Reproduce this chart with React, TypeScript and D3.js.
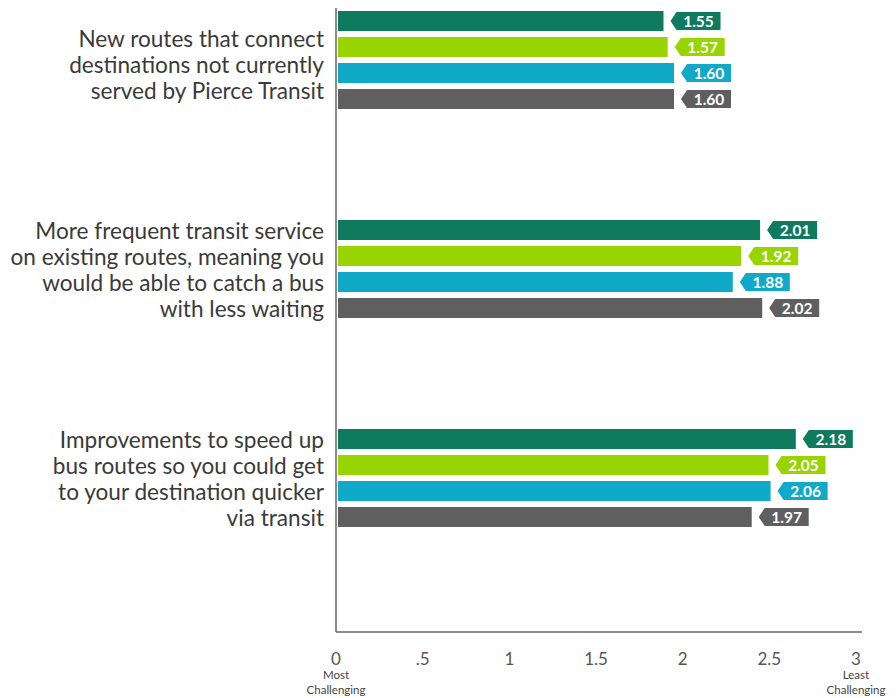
import React from "react";
import * as d3 from "d3";

const categories: string[][] = [
  ["New routes that connect", "destinations not currently", "served by Pierce Transit"],
  ["More frequent transit service", "on existing routes, meaning you", "would be able to catch a bus", "with less waiting"],
  ["Improvements to speed up", "bus routes so you could get", "to your destination quicker", "via transit"],
];
const seriesNames = ["Series 1", "Series 2", "Series 3", "Series 4"];
const series1 = [1.55, 2.01, 2.18];
const series2 = [1.57, 1.92, 2.05];
const series3 = [1.6, 1.88, 2.06];
const series4 = [1.6, 2.02, 1.97];
const seriesColors = ["#0e7a5e", "#97d400", "#10aac8", "#5f5f5f"];
const tickValues = [0, 0.5, 1, 1.5, 2, 2.5, 3];
const tickLabels = ["0", ".5", "1", "1.5", "2", "2.5", "3"];

const W = 896;
const H = 698;
const FONT = "Lato, 'Open Sans', sans-serif";

export default function App() {
  const allSeries = [series1, series2, series3, series4];
  const axisX = d3.scaleLinear().domain([0, 3]).range([336, 856]);
  const barX = d3.scaleLinear().domain([0, 3]).range([338, 968]);
  const groupY = d3.scaleBand<number>().domain(categories.map((_, i) => i)).range([9, 636]).padding(0);
  const innerY = d3
    .scaleBand<number>()
    .domain(seriesNames.map((_, i) => i))
    .range([2, 100])
    .paddingInner(6 / 26)
    .paddingOuter(0);
  const bh = innerY.bandwidth();
  const lineH = 25.7;

  return (
    <svg width={W} height={H} style={{ position: "absolute", left: 0, top: 0, background: "#fff" }} fontFamily={FONT}>
      {categories.map((lines, gi) => {
        const g0 = groupY(gi)!;
        const center = g0 + innerY(0)! + (innerY(3)! + bh - innerY(0)!) / 2;
        const n = lines.length;
        const extra = n === 3 ? 4 : 0;
        return (
          <g key={gi}>
            {lines.map((ln, li) => (
              <text
                key={li}
                x={324}
                y={center + (li - (n - 1) / 2) * lineH + 9 + extra}
                textAnchor="end"
                fontSize={22.6}
                fill="#3a3a3a"
              >
                {ln}
              </text>
            ))}
            {allSeries.map((vals, si) => {
              const y = g0 + innerY(si)!;
              const x1 = barX(vals[gi]);
              const px = x1 + 7;
              const top = y + 1;
              const bot = y + bh - 1;
              const bw = 44;
              const pts = [
                [px, (top + bot) / 2],
                [px + 6, top],
                [px + 6 + bw, top],
                [px + 6 + bw, bot],
                [px + 6, bot],
              ]
                .map((p) => p.join(","))
                .join(" ");
              return (
                <g key={si}>
                  <rect x={barX(0)} y={y} width={x1 - barX(0)} height={bh} fill={seriesColors[si]} />
                  <polygon points={pts} fill={seriesColors[si]} />
                  <text
                    x={px + 6 + bw / 2}
                    y={(top + bot) / 2 + 5.5}
                    textAnchor="middle"
                    fontSize={15.5}
                    fontWeight="bold"
                    fill="#fff"
                  >
                    {vals[gi].toFixed(2)}
                  </text>
                </g>
              );
            })}
          </g>
        );
      })}
      <line x1={336} x2={336} y1={8} y2={632} stroke="#666" strokeWidth={1.5} />
      <line x1={336} x2={862} y1={632} y2={632} stroke="#666" strokeWidth={1.5} />
      {tickValues.map((t, i) => (
        <text key={i} x={axisX(t)} y={665} textAnchor="middle" fontSize={17} fill="#555">
          {tickLabels[i]}
        </text>
      ))}
      <text x={axisX(0)} y={679} textAnchor="middle" fontSize={11.5} fill="#444">
        Most
      </text>
      <text x={axisX(0)} y={694} textAnchor="middle" fontSize={11.5} fill="#444">
        Challenging
      </text>
      <text x={axisX(3)} y={679} textAnchor="middle" fontSize={11.5} fill="#444">
        Least
      </text>
      <text x={axisX(3)} y={694} textAnchor="middle" fontSize={11.5} fill="#444">
        Challenging
      </text>
    </svg>
  );
}
